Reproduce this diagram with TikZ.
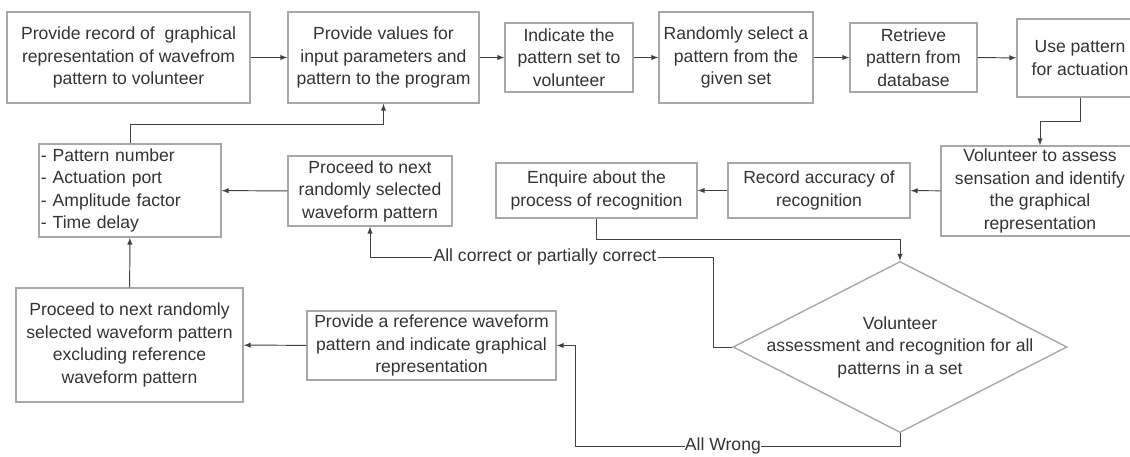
\documentclass[tikz,border=0pt]{standalone}
\usepackage{tikz}
\usepackage{xcolor}
\usepackage{fontspec}
\setmainfont{Liberation Sans}
\usetikzlibrary{shapes,arrows,positioning,calc}
\definecolor{boxgray}{RGB}{168,168,168}
\definecolor{linegray}{RGB}{64,64,64}
\definecolor{textgray}{RGB}{51,51,51}

\begin{document}
\begin{tikzpicture}[x=0.025cm, y=-0.025cm,
    box/.style={draw=boxgray, line width=1pt, rectangle, align=center, inner sep=1pt, text=textgray, font=\fontsize{12.5}{16}\selectfont},
    flow/.style={->, >=latex, draw=linegray, line width=0.7pt},
    lbl/.style={fill=white, inner sep=1pt, text=textgray, font=\fontsize{12.5}{16}\selectfont}]
    \useasboundingbox (0,0) rectangle (1130,457);

    \node[box, minimum width=6.075cm, minimum height=2.275cm] (rec) at (128.5,57.5) {Provide record of \ graphical\\representation of wavefrom\\pattern to volunteer};
    \node[box, minimum width=4.775cm, minimum height=2.275cm] (val) at (383.5,57.5) {Provide values for\\input parameters and\\pattern to the program};
    \node[box, minimum width=3.2cm, minimum height=1.725cm] (ind) at (569,57.5) {Indicate the\\pattern set to\\volunteer};
    \node[box, minimum width=3.85cm, minimum height=2.275cm] (sel) at (736,57.5) {Randomly select a\\pattern from the\\given set};
    \node[box, minimum width=3.175cm, minimum height=1.725cm] (ret) at (913.5,57.5) {Retrieve\\pattern from\\database};
    \node[box, minimum width=3.15cm, minimum height=1.95cm] (act) at (1080,58) {Use pattern\\for actuation};

    \node[box, minimum width=4.95cm, minimum height=2.25cm] (ass) at (1040,191) {Volunteer to assess\\sensation and identify\\the graphical\\representation};
    \node[box, minimum width=4.55cm, minimum height=1.375cm] (acc) at (819,190.5) {Record accuracy of\\recognition};
    \node[box, minimum width=5.025cm, minimum height=1.375cm] (enq) at (596.5,190.5) {Enquire about the\\process of recognition};
    \node[box, minimum width=4.1cm, minimum height=1.75cm] (nxt) at (370,191) {Proceed to next\\randomly selected\\waveform pattern};
    \node[box, minimum width=4.55cm, minimum height=2.325cm, align=left, text width=4.45cm] (par) at (130,190.5) {- Pattern number\\- Actuation port\\- Amplitude factor\\- Time delay};

    \node[box, minimum width=5.675cm, minimum height=2.85cm] (exc) at (129.5,345) {Proceed to next randomly\\selected waveform pattern\\excluding reference\\waveform pattern};
    \node[box, minimum width=6.225cm, minimum height=1.725cm] (ref) at (431.5,345.5) {Provide a reference waveform\\pattern and indicate graphical\\representation};
    \node[draw=boxgray, line width=1pt, diamond, inner sep=0pt, minimum width=8.35cm, minimum height=4.275cm] (dec) at (900,347) {};
    \node[align=center, text=textgray, font=\fontsize{12.5}{16}\selectfont] (dectext) at (dec.center) {Volunteer\\assessment and recognition for all\\patterns in a set};

    \coordinate (b1) at (1040,121);
    \coordinate (b2) at (900,239);
    \coordinate (b3) at (713,257);
    \coordinate (b4) at (370,257);
    \coordinate (b5) at (900,446);
    \coordinate (b6) at (575,446);
    \coordinate (b7) at (130,124);

    \draw[flow] (rec) -- (val);
    \draw[flow] (val) -- (ind);
    \draw[flow] (ind) -- (sel);
    \draw[flow] (sel) -- (ret);
    \draw[flow] (ret) -- (act);
    \draw[flow] (act.south) |- (b1) -| (ass.north);
    \draw[flow] (ass) -- (acc);
    \draw[flow] (acc) -- (enq);
    \draw[flow] (enq.south) |- (b2) -| (dec.north);
    \draw[flow] (dec.west) -| (b3) -- node[lbl, pos=0.49] {All correct or partially correct} (b4) -- (nxt.south);
    \draw[flow] (dec.south) -- (b5) -- node[lbl, inner sep=0pt, pos=0.545] {All Wrong} (b6) |- (ref.east);
    \draw[flow] (ref) -- (exc);
    \draw[flow] (exc) -- (par);
    \draw[flow] (nxt) -- (par);
    \draw[flow] (par.north) -- (b7) -| (val.south);
\end{tikzpicture}
\end{document}
